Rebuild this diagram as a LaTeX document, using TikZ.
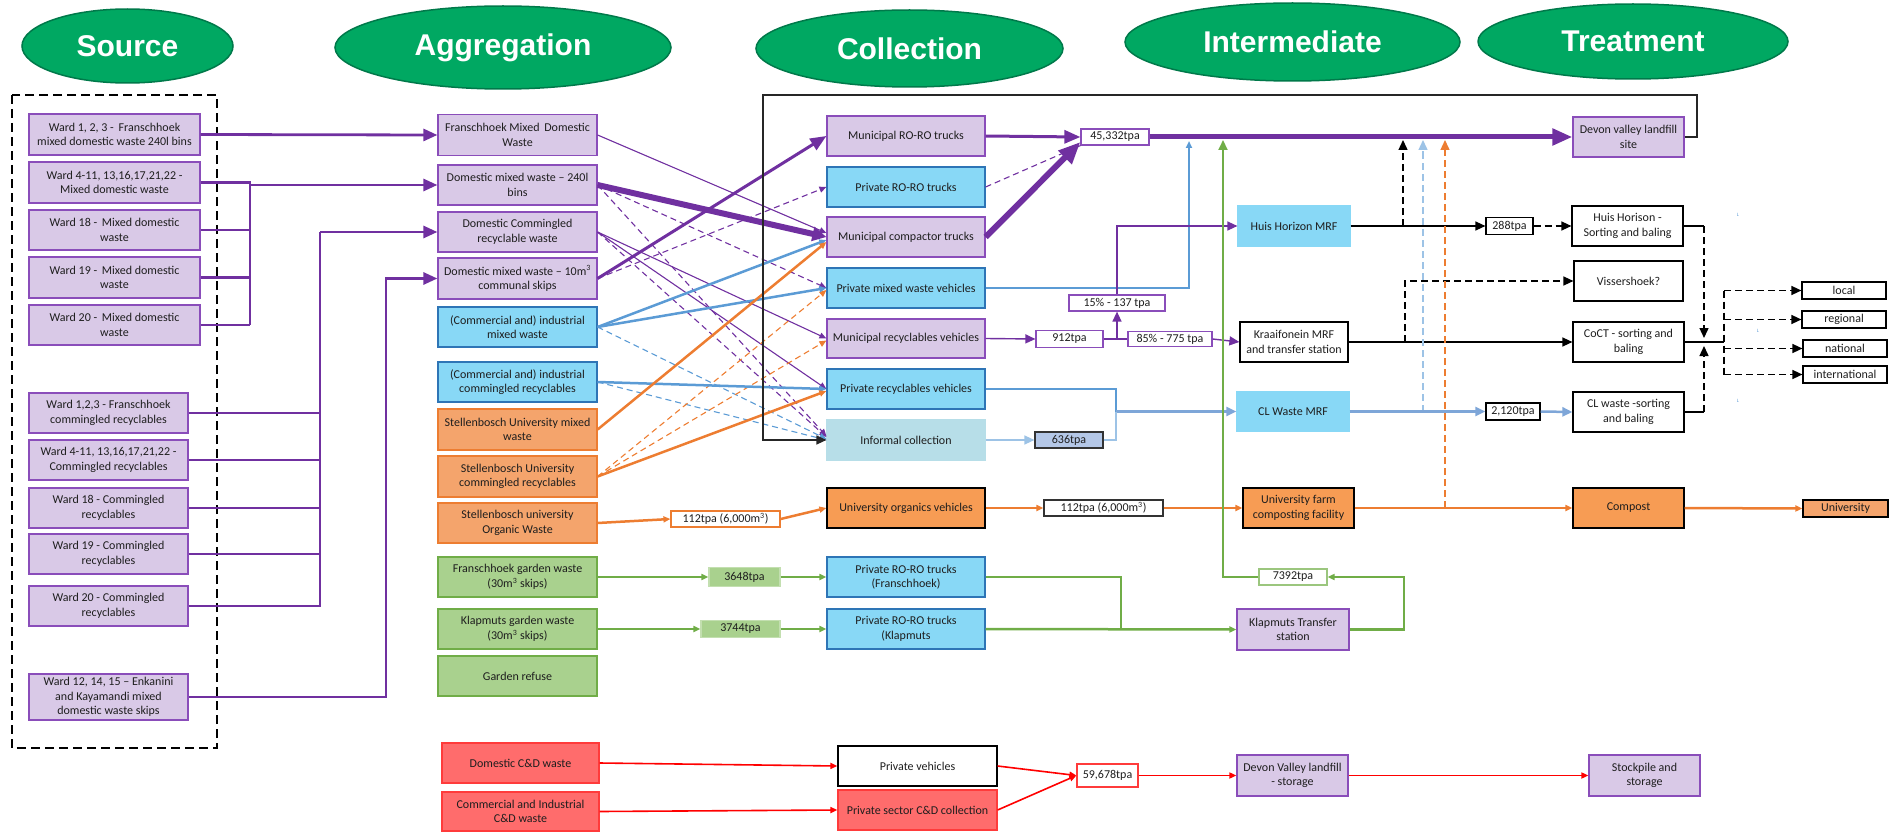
\documentclass[tikz,border=0pt]{standalone}
\usepackage{fontspec}
\setmainfont{Carlito}
\newfontfamily\hdrfont{Liberation Sans}
\usetikzlibrary{arrows.meta,shapes.geometric,calc}

\definecolor{purp}{HTML}{7030A0}
\definecolor{pfill}{RGB}{217,201,231}
\definecolor{pbord}{HTML}{8A4DBA}
\definecolor{bfill}{RGB}{136,216,246}
\definecolor{bbord}{HTML}{2E75B6}
\definecolor{blueln}{HTML}{5B9BD5}
\definecolor{clln}{HTML}{7EA6D8}
\definecolor{ltblue}{HTML}{9DC3E6}
\definecolor{infill}{HTML}{B7DEE8}
\definecolor{tfill}{HTML}{B4C7E7}
\definecolor{ofill}{RGB}{244,164,108}
\definecolor{ofill2}{RGB}{247,156,84}
\definecolor{obord}{HTML}{ED7D31}
\definecolor{orln}{HTML}{ED7D31}
\definecolor{gfill}{HTML}{A9D18E}
\definecolor{gbord}{HTML}{70AD47}
\definecolor{grln}{HTML}{70AD47}
\definecolor{rfill}{RGB}{255,108,108}
\definecolor{rbord}{HTML}{FF3B3B}
\definecolor{redln}{HTML}{FF0000}
\definecolor{stg}{HTML}{00A862}
\definecolor{stgdark}{HTML}{00794A}
\definecolor{txt}{RGB}{30,30,30}

\tikzset{
  x=1pt, y=-1pt,
  arS/.style={-{Triangle[length=7pt,width=6pt]}},
  arM/.style={-{Triangle[length=10pt,width=9pt]}},
  arL/.style={-{Triangle[length=14pt,width=12pt]}},
  pl/.style={draw=purp, line width=2.8pt},
  pthin/.style={draw=purp, line width=1.1pt},
  pdash/.style={draw=purp, line width=1.1pt, dash pattern=on 6pt off 4pt},
  bl/.style={draw=blueln, line width=2.5pt},
  bdashb/.style={draw=blueln, line width=1.1pt, dash pattern=on 6pt off 4pt},
  ol/.style={draw=orln, line width=2.5pt},
  odash/.style={draw=orln, line width=1.1pt, dash pattern=on 6pt off 4pt},
  gl/.style={draw=grln, line width=2.5pt},
  rl/.style={draw=redln, line width=1.6pt},
  kl/.style={draw=black, line width=1.4pt},
  kdash/.style={draw=black, line width=1.4pt, dash pattern=on 7pt off 4pt},
  nbox/.style={draw, line width=1.2pt, align=center, inner sep=1pt,
    font=\fontsize{12}{14.5}\selectfont, text=txt},
  wh/.style 2 args={minimum width=#1pt, minimum height=#2pt},
  pbox/.style={nbox, fill=pfill, draw=pbord},
  bbox/.style={nbox, fill=bfill, draw=bbord},
  obox/.style={nbox, fill=ofill, draw=obord},
  okbox/.style={nbox, fill=ofill2, draw=black},
  gbox/.style={nbox, fill=gfill, draw=gbord},
  wbox/.style={nbox, fill=white, draw=black},
  rbox/.style={nbox, fill=rfill, draw=rbord},
  tbox/.style={nbox, fill=white, inner sep=0pt},
  tinymark/.style={text=blueln, inner sep=0pt, font=\fontsize{5}{5}\selectfont},
  stage/.style={ellipse, fill=stg, draw=stgdark, line width=1.5pt, text=white,
    inner sep=0pt, font=\hdrfont\bfseries\fontsize{30}{30}\selectfont},
}

\begin{document}
\begin{tikzpicture}
\useasboundingbox (0,0) rectangle (1890,832);

% ---------- stage headings ----------
\node[stage, minimum width=211pt, minimum height=74pt] (hSource) at (127.5,46) {Source};
\node[stage, minimum width=336pt, minimum height=83pt] (hAgg) at (503,47.5) {Aggregation};
\node[stage, minimum width=307pt, minimum height=77pt] (hColl) at (909.5,48.5) {Collection};
\node[stage, minimum width=335pt, minimum height=78pt] (hInt) at (1292.5,42) {Intermediate};
\node[stage, minimum width=310pt, minimum height=75pt] (hTreat) at (1633,41.5) {Treatment};

% ---------- source area ----------
\draw[black, line width=1.8pt, dash pattern=on 9pt off 5pt] (12,95) rectangle (217,748);

\node[pbox, wh={171}{41}] (s1) at (114.5,134.5) {Ward 1, 2, 3 -\, Franschhoek\\mixed domestic waste 240l bins};
\node[pbox, wh={171}{41}] (s2) at (114.5,182.5) {Ward 4-11, 13,16,17,21,22 -\\Mixed domestic waste};
\node[pbox, wh={171}{40}] (s3) at (114.5,230) {Ward 18 -\, Mixed domestic\\waste};
\node[pbox, wh={171}{41}] (s4) at (114.5,277.5) {Ward 19 -\, Mixed domestic\\waste};
\node[pbox, wh={171}{40}] (s5) at (114.5,325) {Ward 20 -\, Mixed domestic\\waste};
\node[pbox, wh={159}{40}] (s6) at (108.5,413) {Ward 1,2,3 - Franschhoek\\commingled recyclables};
\node[pbox, wh={159}{40}] (s7) at (108.5,460) {Ward 4-11, 13,16,17,21,22 -\\Commingled recyclables};
\node[pbox, wh={159}{40}] (s8) at (108.5,508) {Ward 18 - Commingled\\recyclables};
\node[pbox, wh={159}{40}] (s9) at (108.5,554) {Ward 19 - Commingled\\recyclables};
\node[pbox, wh={159}{40}] (s10) at (108.5,606) {Ward 20 - Commingled\\recyclables};
\node[pbox, wh={159}{46}] (s11) at (108.5,697) {Ward 12, 14, 15 -- Enkanini\\and Kayamandi mixed\\domestic waste skips};

% ---------- aggregation ----------
\node[pbox, wh={159}{41}] (a1) at (517.5,135) {Franschhoek Mixed\, Domestic\\Waste};
\node[pbox, wh={159}{40}] (a2) at (517.5,185) {Domestic mixed waste -- 240l\\bins};
\node[pbox, wh={159}{40}] (a3) at (517.5,232) {Domestic Commingled\\recyclable waste};
\node[pbox, wh={159}{41}] (a4) at (517.5,278.5) {Domestic mixed waste -- 10m\textsuperscript{3}\\communal skips};
\node[bbox, wh={159}{40}] (a5) at (517.5,327) {(Commercial and) industrial\\mixed waste};
\node[bbox, wh={159}{40}] (a6) at (517.5,382) {(Commercial and) industrial\\commingled recyclables};
\node[obox, wh={159}{41}] (a7) at (517.5,429.5) {Stellenbosch University mixed\\waste};
\node[obox, wh={159}{41}] (a8) at (517.5,476.5) {Stellenbosch University\\commingled recyclables};
\node[obox, wh={159}{40}] (a9) at (517.5,523) {Stellenbosch university\\Organic Waste};
\node[gbox, wh={159}{40}] (a10) at (517.5,577) {Franschhoek garden waste\\(30m\textsuperscript{3} skips)};
\node[gbox, wh={159}{40}] (a11) at (517.5,629) {Klapmuts garden waste\\(30m\textsuperscript{3} skips)};
\node[gbox, wh={159}{40}] (a12) at (517.5,676) {Garden refuse};

% ---------- collection ----------
\node[pbox, wh={158}{40}] (c1) at (906,136) {Municipal RO-RO trucks};
\node[bbox, wh={158}{40}] (c2) at (906,187) {Private RO-RO trucks};
\node[pbox, wh={158}{40}] (c3) at (906,237) {Municipal compactor trucks};
\node[bbox, wh={158}{40}] (c4) at (906,288) {Private mixed waste vehicles};
\node[pbox, wh={158}{39}] (c5) at (906,338.5) {Municipal recyclables vehicles};
\node[bbox, wh={158}{40}] (c6) at (906,389) {Private recyclables vehicles};
\node[nbox, fill=infill, draw=infill, wh={158}{40}] (c7) at (906,440) {Informal collection};
\node[okbox, wh={158}{40}] (c8) at (906,508) {University organics vehicles};
\node[bbox, wh={158}{40}] (c9) at (906,577) {Private RO-RO trucks\\(Franschhoek)};
\node[bbox, wh={158}{40}] (c10) at (906,629) {Private RO-RO trucks\\(Klapmuts};

% ---------- quantities ----------
\node[tbox, draw=pbord, wh={68}{16}] (t45) at (1115,137) {45,332tpa};
\node[tbox, draw=pbord, wh={67}{17}] (t912) at (1069.5,339) {912tpa};
\node[tbox, draw=pbord, wh={96}{16}] (t15) at (1117,303) {15\% - 137 tpa};
\node[tbox, draw=pbord, wh={84}{15}] (t85) at (1170,339) {85\% - 775 tpa};
\node[tbox, fill=tfill, draw=black!80, wh={68}{16}] (t636) at (1069,440) {636tpa};
\node[tbox, draw=black!80, wh={119}{16}] (t112b) at (1103.5,508) {112tpa (6,000m\textsuperscript{3})};
\node[tbox, draw=obord, wh={109}{16}] (t112a) at (725.5,519) {112tpa (6,000m\textsuperscript{3})};
\node[tbox, fill=gfill, draw=gfill!70!white, wh={71}{19}] (t3648) at (744.5,577) {3648tpa};
\node[tbox, fill=gfill, draw=gfill!70!white, wh={79}{17}] (t3744) at (740.5,629) {3744tpa};
\node[tbox, draw=gbord!70!white, wh={68}{16}] (t7392) at (1293,577) {7392tpa};
\node[tbox, draw=black, wh={47}{17}] (t288) at (1509.5,226) {288tpa};
\node[tbox, draw=black, wh={54}{17}] (t2120) at (1513,411.5) {2,120tpa};
\node[tbox, draw=rbord, wh={61}{23}] (t59) at (1107.5,775.5) {59,678tpa};

% ---------- intermediate ----------
\node[bbox, draw=bfill, wh={112}{40}] (hh) at (1294,226) {Huis Horizon MRF};
\node[wbox, wh={108}{40}] (kr) at (1294,342) {Kraaifonein MRF\\and transfer station};
\node[bbox, draw=bfill, wh={112}{39}] (cl) at (1293,411.5) {CL Waste MRF};
\node[okbox, wh={111}{40}] (uf) at (1298.5,508) {University farm\\composting facility};
\node[pbox, wh={112}{41}] (kt) at (1293,629.5) {Klapmuts Transfer\\station};

% ---------- treatment ----------
\node[pbox, wh={111}{40}] (dv) at (1628.5,137) {Devon valley landfill\\site};
\node[wbox, wh={111}{40}] (hs) at (1627.5,226) {Huis Horison -\\Sorting and baling};
\node[wbox, wh={109}{40}] (vs) at (1628.5,281) {Vissershoek?};
\node[wbox, wh={111}{40}] (cc) at (1628.5,342) {CoCT - sorting and\\baling};
\node[wbox, wh={111}{40}] (cs) at (1628.5,412) {CL waste -sorting\\and baling};
\node[okbox, wh={111}{40}] (cp) at (1628.5,508) {Compost};
\node[nbox, fill=ofill, draw=black, wh={85}{17}, inner sep=0pt] (uni) at (1845.5,508.5) {University};
\node[wbox, wh={84}{17}, inner sep=0pt] (loc) at (1844,290.5) {local};
\node[wbox, wh={84}{17}, inner sep=0pt] (reg) at (1844,319.5) {regional};
\node[wbox, wh={84}{17}, inner sep=0pt] (nat) at (1845,348.5) {national};
\node[wbox, wh={84}{17}, inner sep=0pt] (intl) at (1845,374.5) {international};
\node[tinymark] (mk1) at (1738,215) {L};
\node[tinymark] (mk2) at (1758,331) {L};
\node[tinymark] (mk3) at (1738,401) {L};

% ---------- construction and demolition ----------
\node[rbox, wh={157}{40}] (cd1) at (520.5,763) {Domestic C\&D waste};
\node[rbox, wh={157}{39}] (cd2) at (520.5,811.5) {Commercial and Industrial\\C\&D waste};
\node[wbox, wh={159}{40}] (pv) at (917.5,766) {Private vehicles};
\node[rbox, wh={159}{40}] (pc) at (917.5,810) {Private sector C\&D collection};
\node[pbox, wh={111}{41}] (dvs) at (1292.5,775.5) {Devon Valley landfill\\- storage};
\node[pbox, wh={111}{41}] (sp) at (1644.5,775.5) {Stockpile and\\storage};

% ---------- source to aggregation ----------
\coordinate (j2) at (250,325);
\coordinate (j3) at (320,606);
\coordinate (j4) at (386,697);
\draw[pl, arL] (s1.east) -- (a1.west);
\draw[pl] (s2.east) -| (j2);
\draw[pl] (s3.east) -- (s3.east -| j2);
\draw[pl] (s4.east) -- (s4.east -| j2);
\draw[pl] (s5.east) -- (s5.east -| j2);
\draw[pl, arL] (j2 |- a2.west) -- (a2.west);
\draw[pl] (s10.east) -- (j3) -- (j3 |- a3.west);
\draw[pl] (s6.east) -- (s6.east -| j3);
\draw[pl] (s7.east) -- (s7.east -| j3);
\draw[pl] (s8.east) -- (s8.east -| j3);
\draw[pl] (s9.east) -- (s9.east -| j3);
\draw[pl, arL] (j3 |- a3.west) -- (a3.west);
\draw[pl, arL] (s11.east) -- (j4) -- (j4 |- a4.west) -- (a4.west);

% ---------- aggregation to collection ----------
\draw[pdash, arS] (a2.east) -- (c4.west);
\draw[pdash, arS] (a2.east) -- ($(c7.west)+(0,-4)$);
\draw[pdash, arS] (a3.east) -- ($(c7.west)+(0,-3)$);
\draw[pdash, arS] (a4.east) -- (c2.west);
\draw[pthin, arS] (a3.east) -- (c5.west);
\draw[pthin, arS] (a3.east) -- (c6.west);
\draw[pthin, arS] (a1.east) -- ($(c3.west)+(0,-4)$);
\draw[bdashb, arS] (a5.east) -- ($(c7.west)+(0,-1)$);
\draw[bdashb, arS] (a6.east) -- ($(c7.west)+(0,0)$);
\draw[odash, arS] (a8.east) -- ($(c4.west)+(0,2)$);
\draw[odash, arS] (a8.east) -- ($(c5.west)+(0,2)$);
\draw[bl, arS] (a5.east) -- ($(c3.west)+(0,3)$);
\draw[bl, arS] (a5.east) -- (c4.west);
\draw[bl, arS] (a6.east) -- (c6.west);
\draw[ol, arS] (a7.east) -- ($(c3.west)+(0,5)$);
\draw[ol, arS] (a8.east) -- ($(c6.west)+(0,2)$);
\draw[purp, line width=6pt, -{Triangle[length=14pt,width=14pt]}] (a2.east) -- (c3.west);
\draw[purp, line width=3pt, -{Triangle[length=16pt,width=13pt]}] (a4.east) -- (c1.west);
\draw[ol, arS] (a9.east) -- (t112a.west);
\draw[ol, arS] (t112a.east) -- (c8.west);
\draw[gl, arS] (a10.east) -- (t3648.west);
\draw[gl, arS] (t3648.east) -- (c9.west);
\draw[gl, arS] (a11.east) -- (t3744.west);
\draw[gl, arS] (t3744.east) -- (c10.west);

% loop from the landfill back to informal collection
\coordinate (fr1) at (1697,95);
\coordinate (fr2) at (763,95);
\draw[black!85, line width=1.3pt, arM] (dv.east) -| (fr1) -- (fr2) |- (c7.west);

% ---------- collection to intermediate ----------
\coordinate (jb) at (1189,141);
\coordinate (jc) at (1116,411.5);
\coordinate (dk) at (1403,0);
\coordinate (dlb) at (1423,0);
\coordinate (dor) at (1445,0);
\coordinate (dgr) at (1223,0);
\coordinate (dvv) at (1405,0);
\coordinate (gk) at (1404,0);
\coordinate (gc) at (1121,0);
\draw[bl, arS] (c4.east) -| (jb);
\draw[pthin, line width=1.4pt, arM] (c5.east) -- (t912.west);
\draw[pthin, line width=1.4pt] (t912.east) -- (t85.west);
\draw[pthin, line width=1.4pt, arM] (t15.south |- t912.east) -- (t15.south);
\draw[pthin, line width=1.4pt, arM] (t15.north) |- (hh.west);
\draw[pthin, line width=1.4pt, arM] (t85.east) -- (kr.west);
\draw[bl] (c6.east) -| (jc);
\draw[clln, line width=2.5pt, arM] (jc) -- (cl.west);
\draw[ltblue, line width=1.4pt, arM] (c7.east) -- (t636.west);
\draw[ltblue, line width=1.4pt] (t636.east) -| (jc);
\draw[ol, arS] (c8.east) -- (t112b.west);
\draw[ol, arS] (t112b.east) -- (uf.west);
\draw[ol, arS] (uf.east) -- (cp.west);
\draw[ol, arS] (cp.east) -- (uni.west);
\draw[gl] (c9.east) -| (gc |- c10.east);
\draw[gl, arS] (c10.east) -- (kt.west);
\draw[gl, arS] (kt.east) -| (gk |- t7392.east) -- (t7392.east);
\draw[gl, line width=2pt, arM] (t7392.west) -| ($(dgr |- dv.west)+(0,3)$);

% ---------- intermediate to treatment ----------
\draw[kl, arM] (hh.east) -- (t288.west);
\draw[kdash, arM] (t288.east) -- (hs.west);
\draw[kdash, arM] (dk |- hh.east) -- ($(dk |- dv.west)+(0,3)$);
\draw[kl, arM] (kr.east) -- (cc.west);
\draw[kdash, arM] (dvv |- kr.east) |- (vs.west);
\draw[ltblue, line width=1.4pt, dash pattern=on 7pt off 4pt, arM] (dlb |- cl.east) -- ($(dlb |- dv.west)+(0,3)$);
\draw[orln, line width=1.4pt, dash pattern=on 7pt off 4pt, arM] (dor |- uf.east) -- ($(dor |- dv.west)+(0,3)$);
\draw[clln, line width=2.5pt, arM] (cl.east) -- (t2120.west);
\draw[clln, line width=2.5pt, arM] (t2120.east) -- (cs.west);

% main landfill stream
\draw[purp, line width=3pt, -{Triangle[length=16pt,width=13pt]}] (c1.east) -- (t45.west);
\draw[pdash] (c2.east) -- (t45.south west);
\draw[purp, line width=6pt, -{Triangle[length=22pt,width=18pt]}] (c3.east) -- ($(t45.west)+(0,5)$);
\draw[purp, line width=5pt, -{Triangle[length=20pt,width=16pt]}] (t45.east) -- (dv.west);

% ---------- markets ----------
\coordinate (rx) at (1704,0);
\coordinate (ry) at (1724,0);
\draw[kl] (hs.east) -- (rx |- hs.east);
\draw[kdash, arM] (rx |- hs.east) -- ($(rx |- cc.east)+(0,-4)$);
\draw[kl] (cs.east) -- (rx |- cs.east);
\draw[kdash, arM] (rx |- cs.east) -- ($(rx |- cc.east)+(0,4)$);
\draw[kl] (cc.east) -- (ry |- cc.east);
\draw[kdash] (ry |- loc.west) -- (ry |- intl.west);
\draw[kdash, arM] (ry |- loc.west) -- (loc.west);
\draw[kdash, arM] (ry |- reg.west) -- (reg.west);
\draw[kdash, arM] (ry |- nat.west) -- (nat.west);
\draw[kdash, arM] (ry |- intl.west) -- (intl.west);

% ---------- construction and demolition flows ----------
\draw[rl, arS] (cd1.east) -- (pv.west);
\draw[rl, arS] (cd2.east) -- (pc.west);
\draw[rl, arS] (pv.east) -- (t59.west);
\draw[rl, arS] (pc.east) -- (t59.west);
\draw[rl, arS] (t59.east) -- (dvs.west);
\draw[rl, arS] (dvs.east) -- (sp.west);
\end{tikzpicture}
\end{document}
